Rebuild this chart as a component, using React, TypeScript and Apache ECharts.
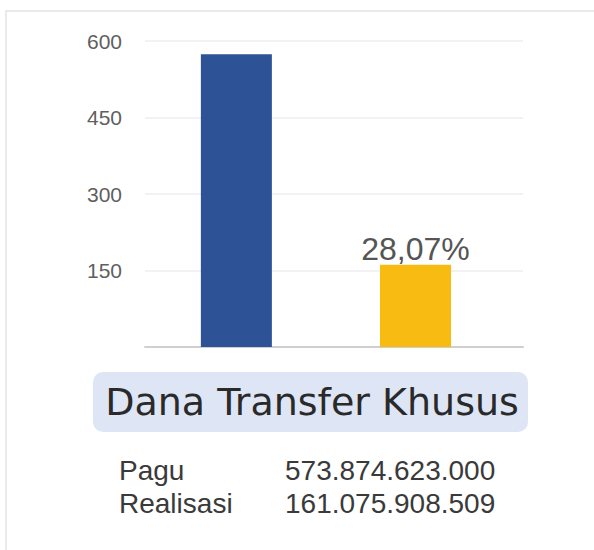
import React, { useEffect, useRef } from "react";
import * as echarts from "echarts";

const categories = ["Pagu", "Realisasi"];
const amountsRupiah = [573874623000, 161075908509];
const barColors = ["#2d5296", "#f8bb12"];
const yTicks = [0, 150, 300, 450, 600];
const boxTitle = "Dana Transfer Khusus";

const fmtRupiah = (n: number) =>
  Math.round(n)
    .toString()
    .replace(/\B(?=(\d{3})+(?!\d))/g, ".");

export default function App() {
  const ref = useRef<HTMLDivElement>(null);
  useEffect(() => {
    if (!ref.current) return;
    const chart = echarts.init(ref.current, null, { renderer: "svg" });
    const billions = amountsRupiah.map((v) => v / 1e9);
    const pct = ((amountsRupiah[1] / amountsRupiah[0]) * 100).toFixed(2).replace(".", ",") + "%";
    const axisFont = "'Liberation Sans', Arial, sans-serif";

    chart.setOption({
      animation: false,
      backgroundColor: "#ffffff",
      grid: { left: 145, right: 71, top: 41, bottom: 203 },
      xAxis: {
        type: "value",
        min: 0.49,
        max: 2.6,
        axisLine: { show: true, lineStyle: { color: "#cfcfcf", width: 2 } },
        axisTick: { show: false },
        axisLabel: { show: false },
        splitLine: { show: false },
      },
      yAxis: {
        type: "value",
        min: yTicks[0],
        max: yTicks[yTicks.length - 1],
        interval: yTicks[1] - yTicks[0],
        axisLine: { show: false },
        axisTick: { show: false },
        axisLabel: {
          margin: 23,
          fontSize: 21,
          color: "#5f5f5f",
          fontFamily: axisFont,
          formatter: (v: number) => (v === 0 ? "" : String(v)),
        },
        splitLine: { lineStyle: { color: "#eeeeee", width: 1.5 } },
      },
      series: [
        {
          type: "bar",
          barWidth: 71,
          data: billions.map((v, i) => ({
            value: [i + 1, v],
            name: categories[i],
            itemStyle: { color: barColors[i] },
            label:
              i === 1
                ? {
                    show: true,
                    position: "top",
                    distance: 0,
                    formatter: pct,
                    fontSize: 32,
                    color: "#555555",
                    fontFamily: axisFont,
                  }
                : { show: false },
          })),
        },
      ],
      graphic: [
        {
          type: "rect",
          shape: { x: 6, y: 11, width: 600, height: 560 },
          style: { fill: "none", stroke: "#e3e3e3", lineWidth: 1.5 },
          silent: true,
        },
        {
          type: "rect",
          shape: { x: 93, y: 372, width: 435, height: 60, r: 10 },
          style: { fill: "#dee5f4" },
        },
        {
          type: "text",
          x: 312,
          y: 402,
          style: {
            text: boxTitle,
            fontSize: 38,
            fontFamily: "'DejaVu Sans', sans-serif",
            fill: "#2a2a2a",
            align: "center",
            verticalAlign: "middle",
          },
        },
        ...categories.flatMap((c, i) => [
          {
            type: "text",
            x: 119,
            y: 470 + i * 33.5,
            style: {
              text: c,
              fontSize: 28,
              fontFamily: axisFont,
              fill: "#3a3a3a",
              align: "left",
              verticalAlign: "middle",
            },
          },
          {
            type: "text",
            x: 285,
            y: 470 + i * 33.5,
            style: {
              text: fmtRupiah(amountsRupiah[i]),
              fontSize: 28,
              fontFamily: axisFont,
              fill: "#3a3a3a",
              align: "left",
              verticalAlign: "middle",
            },
          },
        ]),
      ],
    });
    return () => chart.dispose();
  }, []);
  return (
    <div
      ref={ref}
      style={{ position: "fixed", left: 0, top: 0, width: 594, height: 550 }}
    />
  );
}
